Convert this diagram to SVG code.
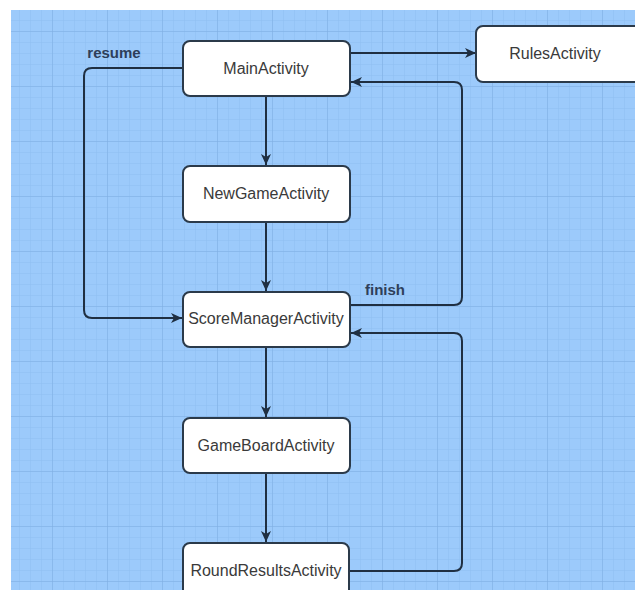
<svg xmlns="http://www.w3.org/2000/svg" width="635" height="590" viewBox="0 0 635 590">
<style>
.box{fill:#ffffff;stroke:#2b3a4a;stroke-width:2}
.lbl{font-family:"Liberation Sans",Arial,sans-serif;font-size:16px;fill:#3a3a3a;text-anchor:middle}
.elbl{font-family:"Liberation Sans",Arial,sans-serif;font-size:15px;font-weight:bold;fill:#2e3f5a;text-anchor:middle}
.edge{fill:none;stroke:#1f2f42;stroke-width:2;marker-end:url(#arr)}
</style>
<defs>
<pattern id="minor" width="11" height="11" patternUnits="userSpaceOnUse" patternTransform="translate(-2,-23)">
<path d="M11 0V11M0 11H11" fill="none" stroke="#8fbef0" stroke-width="1"/>
</pattern>
<pattern id="major" width="55" height="55" patternUnits="userSpaceOnUse" patternTransform="translate(-2,-23)">
<path d="M55 0V55M0 55H55" fill="none" stroke="#7eaee2" stroke-width="1"/>
</pattern>
<marker id="arr" markerWidth="12" markerHeight="10" refX="11" refY="5" orient="auto" markerUnits="userSpaceOnUse">
<path d="M0 0L11 5L0 10L3 5Z" fill="#1f2f42"/>
</marker>
</defs>
<rect x="0" y="0" width="635" height="590" fill="#ffffff"/>
<rect x="11" y="10" width="624" height="580" fill="#9ccafb"/>
<rect x="11" y="10" width="624" height="580" fill="url(#minor)"/>
<rect x="11" y="10" width="624" height="580" fill="url(#major)"/>
<g id="connectors">
<path class="edge" d="M350 53H476"/>
<path class="edge" d="M266 96V165"/>
<path class="edge" d="M266 222V291"/>
<path class="edge" d="M266 347V417"/>
<path class="edge" d="M266 473V542"/>
<path class="edge" d="M183 68H92Q84 68 84 76V310Q84 318 92 318H182"/>
<path class="edge" d="M350 305H454Q462 305 462 297V90Q462 82 454 82H351"/>
<path class="edge" d="M349 571H454Q462 571 462 563V341Q462 333 454 333H351"/>
<text class="elbl" x="114" y="58">resume</text>
<text class="elbl" x="385" y="295">finish</text>
</g>
<g id="main"><rect class="box" x="183" y="41" width="167" height="55" rx="7"/><text class="lbl" x="266" y="74">MainActivity</text></g>
<g id="rules"><rect class="box" x="476" y="26" width="170" height="56" rx="7"/><text class="lbl" x="555" y="59">RulesActivity</text></g>
<g id="newgame"><rect class="box" x="183" y="166" width="167" height="56" rx="7"/><text class="lbl" x="266" y="199">NewGameActivity</text></g>
<g id="score"><rect class="box" x="183" y="292" width="167" height="55" rx="7"/><text class="lbl" x="266" y="324">ScoreManagerActivity</text></g>
<g id="gameboard"><rect class="box" x="183" y="418" width="167" height="55" rx="7"/><text class="lbl" x="266" y="451">GameBoardActivity</text></g>
<g id="round"><rect class="box" x="183" y="543" width="166" height="60" rx="7"/><text class="lbl" x="266" y="576">RoundResultsActivity</text></g>
</svg>
